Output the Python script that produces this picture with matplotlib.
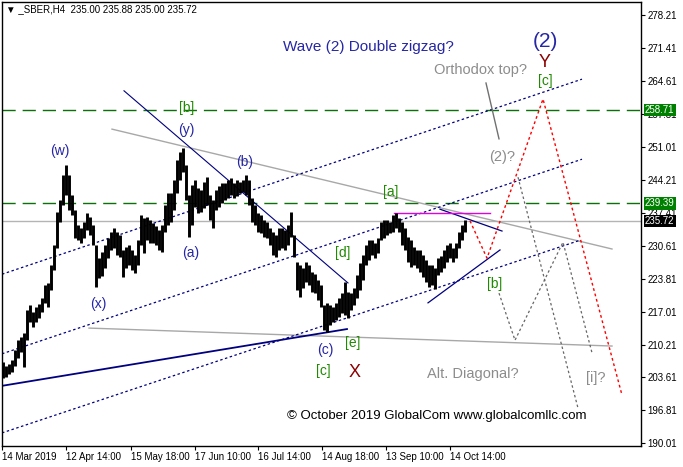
import matplotlib
matplotlib.use('Agg')
import matplotlib.pyplot as plt
import numpy as np

plt.rcParams['font.family'] = ['Liberation Sans', 'DejaVu Sans']

# ---- data: daily high / low (x = bar number) ----
highs = [206.7, 205.9, 206.3, 207.1, 209.2, 211.3, 211.9, 212.7, 217.4, 218.5,
         217.0, 218.1, 218.7, 219.9, 222.6, 223.0, 226.7, 230.8, 237.6, 240.1,
         245.3, 247.3, 245.3, 241.1, 238.0, 235.0, 234.3, 235.6, 237.4, 236.6,
         235.0, 230.8, 228.2, 229.4, 230.8, 232.3, 233.5, 234.3, 233.5, 232.9,
         229.8, 230.4, 230.8, 229.8, 228.8, 231.9, 237.0, 236.4, 236.6, 236.0,
         235.4, 234.7, 233.9, 235.0, 239.1, 241.5, 241.5, 244.2, 248.3, 250.0,
         250.8, 247.3, 241.1, 243.2, 244.2, 242.6, 242.2, 243.8, 244.8, 241.1,
         240.1, 242.2, 243.0, 243.6, 243.6, 244.2, 244.6, 243.6, 244.2, 243.8,
         244.2, 245.3, 244.2, 240.5, 239.1, 237.4, 237.0, 236.0, 235.6, 234.3,
         233.5, 232.9, 234.3, 234.3, 233.9, 235.0, 237.6, 232.9, 227.3, 226.7,
         226.1, 227.3, 226.7, 225.3, 224.9, 223.6, 222.6, 218.5, 218.9, 218.5,
         218.1, 218.9, 219.9, 220.9, 223.2, 221.2, 220.9, 222.0, 224.6, 227.1,
         228.8, 230.8, 231.9, 231.9, 231.2, 232.3, 235.6, 236.0, 236.0, 235.6,
         237.0, 237.4, 236.4, 235.6, 234.3, 232.5, 231.9, 230.4, 229.8, 229.8,
         228.8, 227.7, 226.7, 226.7, 226.1, 228.2, 228.6, 229.8, 230.8, 231.2,
         230.2, 231.2, 233.5, 235.0, 235.9]
lows = [203.4, 203.6, 204.3, 204.7, 205.9, 207.6, 208.8, 205.7, 211.3, 215.0,
        213.9, 215.0, 215.8, 217.0, 218.9, 218.1, 221.6, 225.7, 230.2, 235.6,
        239.1, 241.1, 238.0, 237.0, 232.3, 231.9, 231.2, 232.3, 233.9, 232.9,
        230.8, 222.2, 224.0, 224.4, 226.1, 228.2, 229.8, 230.2, 228.8, 228.4,
        224.2, 226.1, 226.7, 225.7, 225.1, 226.7, 230.8, 229.2, 231.9, 231.2,
        231.2, 230.8, 229.8, 229.4, 233.5, 235.0, 235.6, 238.0, 241.5, 244.2,
        245.9, 240.1, 232.5, 235.0, 238.7, 237.4, 237.6, 238.5, 239.1, 236.0,
        234.3, 238.0, 238.7, 239.5, 240.1, 240.5, 241.1, 240.5, 240.9, 241.5,
        241.7, 241.1, 239.1, 235.6, 235.0, 233.5, 233.3, 232.5, 232.3, 230.8,
        228.8, 228.4, 229.8, 230.2, 229.8, 230.8, 232.5, 228.4, 221.6, 220.1,
        222.0, 223.2, 222.6, 221.2, 220.9, 219.5, 218.1, 213.3, 212.9, 214.4,
        215.0, 215.4, 216.0, 216.8, 216.4, 215.8, 217.4, 218.5, 219.9, 221.6,
        223.6, 226.7, 227.7, 228.8, 228.2, 229.2, 231.9, 232.3, 232.9, 233.3,
        233.5, 234.3, 233.5, 230.8, 229.8, 227.3, 226.3, 226.7, 226.1, 225.3,
        224.2, 223.2, 222.2, 222.6, 221.8, 224.6, 225.3, 226.1, 227.3, 228.2,
        227.3, 228.2, 230.2, 231.9, 233.5]
bar_x = np.arange(len(highs)) * 3 + 1   # one entry per trading day (3 H4 bars)

date_ticks = [0, 64, 129, 193, 256, 320, 384, 448]
date_labels = ['14 Mar 2019', '12 Apr 14:00', '15 May 18:00', '17 Jun 10:00',
               '16 Jul 14:00', '14 Aug 18:00', '13 Sep 10:00', '14 Oct 14:00']
price_ticks = [190.01, 196.81, 203.61, 210.21, 217.01, 223.81, 230.61, 237.41,
               244.21, 251.01, 257.81, 264.61, 271.41, 278.21]

last_price = 235.72
level_hi = 258.71
level_lo = 239.39

# wave lines: (bar, price) end points
chan_a = ([0, 580], [224.8, 265.0])
chan_b = ([0, 580], [208.4, 248.5])
chan_c = ([0, 578], [192.1, 231.8])
down_tl = ([122, 346], [262.6, 223.0])
base_tl = ([0, 345], [201.8, 213.5])
diag_lo = ([426, 498], [218.9, 229.8])
diag_hi = ([438, 500], [238.2, 233.7])
flat_top = ([392, 488], [237.41, 237.41])
gray_top = ([110, 610], [254.7, 230.0])
gray_bot = ([87, 610], [213.7, 210.0])
ortho_ptr = ([484, 497], [264.2, 252.7])
red_path = ([468, 485, 541, 620], [235.8, 228.1, 260.9, 199.9])
alt_path = ([497, 513, 561, 590], [220.9, 211.2, 231.4, 208.6])
alt_drop = ([516, 576], [244.8, 197.2])

NAVY = '#000080'
TXT_BLUE = '#2626a6'
GREEN = '#1f8a00'
DGREEN = '#0a700a'
DRED = '#8b0000'
GRAY = '#8c8c8c'

fig = plt.figure(figsize=(6.83, 4.67), dpi=100, facecolor='white')
ax = fig.add_axes([2 / 683, 21 / 467, 639 / 683, 444 / 467])
ax.set_xlim(0, 639)
ax.set_ylim(189.4, 280.9)

# horizontal levels
ax.axhline(level_hi, color=DGREEN, lw=1.0, ls=(0, (9.5, 5)), zorder=1)
ax.axhline(level_lo, color=DGREEN, lw=1.0, ls=(0, (9.5, 5)), zorder=1)
ax.axhline(last_price, color='#b4b4b4', lw=1.0, zorder=1)

# price bars
ax.vlines(bar_x, lows, highs, color='black', lw=2.1, zorder=3)

dot = (0, (2, 2))
for ln in (chan_a, chan_b, chan_c):
    ax.plot(*ln, color=NAVY, lw=0.9, ls=dot, zorder=2)
ax.plot(*down_tl, color=NAVY, lw=0.8, zorder=2)
ax.plot(*base_tl, color=NAVY, lw=1.3, zorder=2)
ax.plot(*diag_lo, color=NAVY, lw=0.9, zorder=2)
ax.plot(*diag_hi, color=NAVY, lw=0.9, zorder=2)
ax.plot(*flat_top, color='#e000e0', lw=1.0, zorder=2)
ax.plot(*gray_top, color='#a8a8a8', lw=1.0, zorder=1)
ax.plot(*gray_bot, color='#a8a8a8', lw=1.0, zorder=1)
ax.plot(*ortho_ptr, color='#707070', lw=1.0, zorder=2)
ax.plot(*red_path, color='red', lw=1.0, ls=dot, zorder=2)
ax.plot(*alt_path, color='#666666', lw=0.9, ls=dot, zorder=2)
ax.plot(*alt_drop, color='#666666', lw=0.9, ls=dot, zorder=2)

# annotations
def lab(x, y, s, c, fs=10, **kw):
    ax.text(x, y, s, color=c, fontsize=fs, ha='center', va='center', zorder=5, **kw)

lab(366, 271.7, 'Wave (2) Double zigzag?', TXT_BLUE, 11)
lab(543, 272.8, '(2)', TXT_BLUE, 15)
lab(543, 268.4, 'Y', DRED, 13)
lab(478, 266.8, 'Orthodox top?', GRAY, 10.5)
lab(543, 264.6, '[c]', GREEN, 10)
lab(185, 259.0, '[b]', GREEN, 10)
lab(184, 254.5, '(y)', TXT_BLUE, 10)
lab(58, 250.2, '(w)', TXT_BLUE, 10)
lab(243, 247.9, '(b)', TXT_BLUE, 10)
lab(389, 241.8, '[a]', GREEN, 10)
lab(500, 249.0, '(2)?', GRAY, 10.5)
lab(189, 229.2, '(a)', TXT_BLUE, 10)
lab(341, 229.2, '[d]', GREEN, 10)
lab(96, 218.7, '(x)', TXT_BLUE, 10)
lab(493, 222.8, '[b]', GREEN, 10)
lab(351, 210.6, '[e]', GREEN, 10)
lab(323, 209.2, '(c)', TXT_BLUE, 10)
lab(321, 204.9, '[c]', GREEN, 10)
lab(353, 204.6, 'X', DRED, 13)
lab(471, 204.2, 'Alt. Diagonal?', GRAY, 10.5)
lab(594, 203.4, '[i]?', GRAY, 10.5)
lab(435, 195.6, '\u00a9 October 2019 GlobalCom www.globalcomllc.com', 'black', 9.5)

ax.text(0.006, 0.983, '\u25bc _SBER,H4  235.00 235.88 235.00 235.72', transform=ax.transAxes,
        fontsize=7, ha='left', va='center', color='black', zorder=5)

# axes styling (MT4 look)
for sp in ax.spines.values():
    sp.set_color('black')
    sp.set_linewidth(1.0)
ax.yaxis.tick_right()
ax.set_yticks(price_ticks)
ax.set_yticklabels([f'{p:.2f}' for p in price_ticks])
ax.set_xticks(date_ticks)
ax.set_xticklabels(date_labels, ha='left')
ax.tick_params(axis='both', direction='out', length=3, width=0.8, labelsize=7,
               colors='black', pad=1.5)

ytr = ax.get_yaxis_transform()
for val, bg in ((level_hi, '#008000'), (level_lo, '#008000'), (last_price, 'black')):
    ax.text(1.006, val, f'{val:.2f}', transform=ytr, fontsize=7, color='white',
            ha='left', va='center', clip_on=False, zorder=6,
            bbox=dict(boxstyle='square,pad=0.12', fc=bg, ec='none'))

fig.savefig('out.png', dpi=100, facecolor='white')
